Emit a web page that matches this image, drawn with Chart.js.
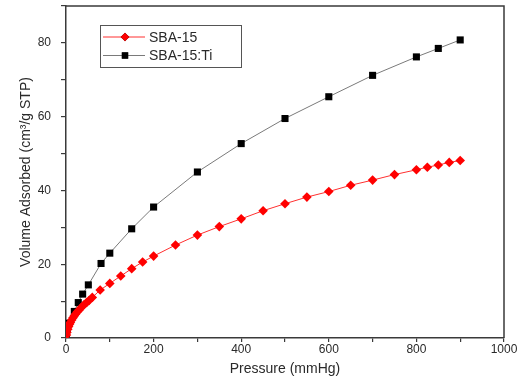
<!DOCTYPE html>
<html>
<head>
<meta charset="utf-8">
<script src="https://cdn.jsdelivr.net/npm/chart.js@4.4.1/dist/chart.umd.min.js"></script>
<style>
  body { margin: 0; background: #fff; }
  canvas { display: block; }
</style>
</head>
<body>
<canvas id="isotherm" width="518" height="391"></canvas>
<script>
// values
const sbaPressure = [1, 2, 4, 6, 8, 10, 13, 16, 19, 22, 26, 30, 35, 41, 47, 53, 60, 78, 100, 125, 150, 175, 200, 250, 300, 350, 400, 450, 500, 550, 600, 650, 700, 750, 800, 825, 850, 875, 900];
const sbaVolume = [0.8, 1.5, 2.4, 3.1, 3.7, 4.2, 4.9, 5.5, 6.0, 6.5, 7.1, 7.6, 8.3, 9.0, 9.6, 10.2, 11.0, 13.0, 14.8, 16.8, 18.8, 20.6, 22.2, 25.2, 27.9, 30.2, 32.3, 34.5, 36.4, 38.2, 39.7, 41.4, 42.8, 44.3, 45.6, 46.3, 46.9, 47.6, 48.1];

const tiPressure = [1, 3, 6, 19, 28, 38, 51, 80, 100, 150, 200, 300, 400, 500, 600, 700, 800, 850, 900];
const tiVolume = [1.2, 2.6, 4.0, 7.2, 9.6, 11.9, 14.4, 20.2, 23.0, 29.6, 35.5, 45.0, 52.7, 59.5, 65.4, 71.2, 76.2, 78.5, 80.8];

const seriesNames = ['SBA-15', 'SBA-15:Ti'];
const xTickLabels = [0, 200, 400, 600, 800, 1000];
const yTickLabels = [0, 20, 40, 60, 80];

const toPoints = (xs, ys) => xs.map((x, i) => ({ x: x, y: ys[i] }));

const axisColor = '#3a3a3a';
const textColor = '#2a2a2a';
const fontFamily = 'Arial, "Liberation Sans", sans-serif';

// top and right edges of the frame
const frameBox = {
    id: 'frameBox',
    afterDraw(chart) {
        const { ctx, chartArea: a } = chart;
        ctx.save();
        ctx.strokeStyle = axisColor;
        ctx.lineWidth = 1.5;
        ctx.beginPath();
        ctx.moveTo(a.left, a.top);
        ctx.lineTo(a.right, a.top);
        ctx.lineTo(a.right, a.bottom);
        ctx.stroke();
        ctx.restore();
    }
};

// boxed legend with line-marker-line symbols
const boxLegend = {
    id: 'boxLegend',
    afterDraw(chart) {
        const { ctx, chartArea: a } = chart;
        const left = a.left + 34, top = a.top + 19;
        ctx.save();
        ctx.strokeStyle = '#555';
        ctx.lineWidth = 1;
        ctx.strokeRect(left + 0.5, top + 0.5, 141, 42);
        ctx.font = '14px ' + fontFamily;
        ctx.textBaseline = 'middle';
        chart.data.datasets.forEach((ds, i) => {
            const cy = top + 12 + i * 18.5;
            ctx.strokeStyle = ds.borderColor;
            ctx.lineWidth = 1;
            ctx.beginPath();
            ctx.moveTo(left + 3, cy);
            ctx.lineTo(left + 45, cy);
            ctx.stroke();
            Chart.helpers.drawPoint(ctx, {
                pointStyle: ds.pointStyle,
                radius: ds.pointRadius - 0.5,
                borderWidth: 0
            }, left + 25, cy);
            ctx.fillStyle = ds.pointBackgroundColor;
            ctx.fill();
            ctx.fillStyle = textColor;
            ctx.fillText(seriesNames[i], left + 49, cy + 1);
        });
        ctx.restore();
    }
};

new Chart(document.getElementById('isotherm'), {
    type: 'scatter',
    data: {
        datasets: [{
            label: seriesNames[0],
            data: toPoints(sbaPressure, sbaVolume),
            showLine: true,
            borderColor: '#ff3030',
            borderWidth: 1,
            pointStyle: 'rectRot',
            pointRadius: 4.8,
            pointBackgroundColor: '#ff0000',
            pointBorderWidth: 0
        }, {
            label: seriesNames[1],
            data: toPoints(tiPressure, tiVolume),
            showLine: true,
            borderColor: '#7a7a7a',
            borderWidth: 1,
            pointStyle: 'rect',
            pointRadius: 5,
            pointBackgroundColor: '#000000',
            pointBorderWidth: 0
        }]
    },
    options: {
        responsive: false,
        animation: false,
        layout: { padding: { top: 6, right: 14, left: 0, bottom: 0 } },
        plugins: {
            legend: { display: false },
            tooltip: { enabled: false }
        },
        scales: {
            x: {
                type: 'linear',
                min: 0,
                max: 1000,
                afterFit(scale) {
                    scale.height = 53;
                    scale.paddingLeft = 0;
                    scale.paddingRight = 0;
                },
                ticks: {
                    stepSize: 100,
                    padding: 0,
                    color: textColor,
                    font: { family: fontFamily, size: 12 },
                    callback: v => xTickLabels.includes(v) ? v : ''
                },
                grid: { drawOnChartArea: false, drawTicks: true, tickLength: 4, color: axisColor, lineWidth: 1.2 },
                border: { display: true, color: axisColor, width: 1.5 },
                title: {
                    display: true,
                    text: 'Pressure (mmHg)',
                    color: textColor,
                    font: { family: fontFamily, size: 14 },
                    padding: { top: 2, bottom: 13 }
                }
            },
            y: {
                type: 'linear',
                min: 0,
                max: 90,
                afterFit(scale) {
                    scale.width = 66;
                    scale.paddingTop = 0;
                    scale.paddingBottom = 0;
                },
                ticks: {
                    stepSize: 10,
                    padding: 10,
                    color: textColor,
                    font: { family: fontFamily, size: 12 },
                    callback: v => yTickLabels.includes(v) ? v : ''
                },
                grid: { drawOnChartArea: false, drawTicks: true, tickLength: 5, color: axisColor, lineWidth: 1.2 },
                border: { display: true, color: axisColor, width: 1.5 },
                title: {
                    display: true,
                    text: 'Volume Adsorbed (cm³/g STP)',
                    color: textColor,
                    font: { family: fontFamily, size: 14 },
                    padding: { top: 18, bottom: 0 }
                }
            }
        }
    },
    plugins: [frameBox, boxLegend]
});
</script>
</body>
</html>
